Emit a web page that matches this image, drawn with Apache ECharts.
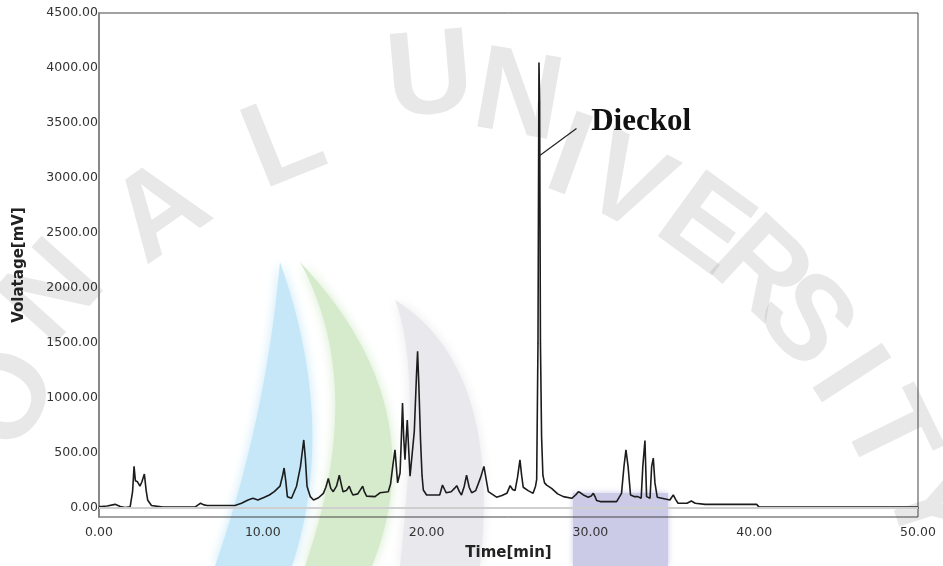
<!DOCTYPE html>
<html>
<head>
<meta charset="utf-8">
<title>Chromatogram</title>
<script src="https://cdn.jsdelivr.net/npm/echarts@6/dist/echarts.min.js"></script>
<style>
  html, body { margin: 0; padding: 0; background: #fff; }
  #chart { width: 943px; height: 566px; }
</style>
</head>
<body>
<div id="chart"></div>
<script>
// Retention time (min) and detector response (mV) of the chromatogram trace
const retentionTime = [
  0.00, 0.15, 0.50, 0.98, 1.30, 1.60, 1.90, 2.05, 2.14, 2.22, 2.35, 2.50, 2.62, 2.77, 2.88, 2.97,
  3.20, 3.90, 5.86, 6.05, 6.20, 6.40, 6.60, 8.30, 8.70, 9.10, 9.40, 9.70, 10.10, 10.40, 10.70,
  11.05, 11.20, 11.30, 11.40, 11.50, 11.75, 12.06, 12.30, 12.50, 12.60, 12.70, 12.90, 13.10,
  13.40, 13.70, 13.85, 14.00, 14.15, 14.30, 14.50, 14.67, 14.80, 14.90, 15.10, 15.28, 15.40,
  15.50, 15.80, 16.10, 16.20, 16.34, 16.85, 17.15, 17.66, 17.80, 17.95, 18.07, 18.15, 18.23,
  18.38, 18.45, 18.53, 18.60, 18.68, 18.76, 18.82, 18.90, 18.99, 19.10, 19.25, 19.38, 19.45,
  19.53, 19.63, 19.72, 19.80, 20.00, 20.80, 20.97, 21.10, 21.20, 21.50, 21.70, 21.84, 22.00,
  22.13, 22.30, 22.44, 22.60, 22.75, 23.00, 23.30, 23.50, 23.65, 23.77, 24.27, 24.60, 24.90,
  25.10, 25.25, 25.40, 25.55, 25.70, 25.80, 25.90, 26.20, 26.50, 26.65, 26.72, 26.80, 26.86,
  26.90, 26.95, 27.02, 27.10, 27.20, 27.33, 27.63, 28.00, 28.35, 28.86, 29.10, 29.26, 29.40,
  29.57, 29.87, 30.05, 30.18, 30.30, 30.38, 30.60, 31.60, 31.90, 32.05, 32.17, 32.30, 32.45,
  32.70, 32.90, 33.10, 33.20, 33.33, 33.43, 33.64, 33.74, 33.84, 33.94, 34.08, 34.85, 35.06,
  35.20, 35.35, 35.90, 36.16, 36.40, 37.00, 40.15, 40.30, 50.00
];
const signal = [
  15, 15, 20, 35, 15, 5, 12, 150, 380, 250, 240, 200, 240, 310, 160, 75,
  25, 10, 10, 30, 45, 30, 25, 25, 45, 75, 90, 75, 100, 120, 150,
  200, 290, 365, 250, 105, 90, 200, 380, 620, 450, 200, 105, 75,
  95, 135, 190, 270, 180, 150, 200, 300, 210, 150, 160, 200, 150,
  120, 130, 200, 150, 110, 105, 140, 150, 220, 400, 530, 380, 230,
  320, 600, 955, 650, 440, 650, 800, 550, 290, 300, 700, 1200, 1425,
  1100, 620, 300, 165, 120, 120, 210, 170, 140, 150, 180, 205, 150,
  120, 200, 300, 190, 140, 160, 280, 380, 250, 150, 100, 115, 135,
  205, 170, 160, 280, 440, 300, 190, 160, 135, 200, 260, 1500, 4050,
  3690, 1500, 650, 300, 230, 210, 180, 130, 105, 90, 120, 150, 140,
  120, 100, 110, 135, 100, 70, 60, 60, 135, 380, 530, 380, 120,
  105, 105, 90, 380, 615, 105, 90, 380, 455, 230, 100, 75, 120,
  80, 45, 45, 65, 45, 35, 35, 10, 10
];

// Axis ticks
const timeTicks = [0, 10, 20, 30, 40, 50];
const voltageTicks = [0, 500, 1000, 1500, 2000, 2500, 3000, 3500, 4000, 4500];

// Annotated compound: peak point the leader starts from, leader end, label anchor
const peakName = 'Dieckol';
const leaderStart = [26.87, 3200];
const leaderEnd = [29.15, 3450];
const labelAnchor = [30.05, 3510];

const trace = retentionTime.map((t, i) => [t, signal[i]]);

// Faded seal in the background: arced lettering and coloured crescents
const sealLetters = [
  { ch: 'O', x: 10,  y: 400, r: 62 },
  { ch: 'N', x: 55,  y: 295, r: 48 },
  { ch: 'A', x: 162, y: 214, r: 35 },
  { ch: 'L', x: 285, y: 145, r: 22 },
  { ch: 'U', x: 430, y: 80,  r: 5 },
  { ch: 'N', x: 518, y: 100, r: -10 },
  { ch: 'I', x: 568, y: 160, r: -20 },
  { ch: 'V', x: 625, y: 188, r: -28 },
  { ch: 'E', x: 703, y: 228, r: -36 },
  { ch: 'R', x: 758, y: 272, r: -43 },
  { ch: 'S', x: 803, y: 322, r: -50 },
  { ch: 'I', x: 845, y: 377, r: -57 },
  { ch: 'T', x: 885, y: 435, r: -64 },
  { ch: 'Y', x: 928, y: 508, r: -72 }
];

// Crescent outlines: tip, outer control/end, inner control/end (quadratic curves)
const crescents = [
  { tip: [280, 262], outerCtrl: [338, 426], outerEnd: [292, 566], innerCtrl: [266, 420], innerEnd: [215, 566], color: '#c6e7f7' },
  { tip: [300, 262], outerCtrl: [436, 406], outerEnd: [372, 566], innerCtrl: [368, 386], innerEnd: [305, 566], color: '#d5ebcc' },
  { tip: [395, 300], outerCtrl: [502, 367], outerEnd: [480, 566], innerCtrl: [422, 367], innerEnd: [400, 566], color: '#e9e9ed' }
];

function quadPoints(p0, c, p1, n) {
  const pts = [];
  for (let i = 0; i <= n; i++) {
    const s = i / n, a = (1 - s) * (1 - s), b = 2 * (1 - s) * s, d = s * s;
    pts.push([a * p0[0] + b * c[0] + d * p1[0], a * p0[1] + b * c[1] + d * p1[1]]);
  }
  return pts;
}

const crescentGraphics = crescents.map(c => {
  const outer = quadPoints(c.tip, c.outerCtrl, c.outerEnd, 30);
  const inner = quadPoints(c.tip, c.innerCtrl, c.innerEnd, 30).reverse();
  return {
    type: 'polygon', z: -10, silent: true,
    shape: { points: outer.concat(inner) },
    style: { fill: c.color, shadowBlur: 12, shadowColor: c.color }
  };
});

const sealGraphics = crescentGraphics.concat([
  {
    type: 'rect', z: -10, silent: true,
    shape: { x: 573, y: 493, width: 95, height: 73 },
    style: { fill: '#cbcbe8', shadowBlur: 6, shadowColor: '#cbcbe8' }
  }
]).concat(sealLetters.map(l => ({
  type: 'text', z: -9, silent: true,
  x: l.x, y: l.y, rotation: l.r * Math.PI / 180,
  style: {
    text: l.ch,
    font: 'bold 120px "Liberation Sans", Arial, sans-serif',
    fill: 'rgba(160,160,160,0.24)',
    align: 'center',
    verticalAlign: 'middle',
    shadowBlur: 8,
    shadowColor: 'rgba(160,160,160,0.5)'
  }
})));

const chart = echarts.init(document.getElementById('chart'), null, { renderer: 'canvas' });

chart.setOption({
  backgroundColor: '#ffffff',
  animation: false,
  graphic: sealGraphics,
  grid: {
    left: 99, right: 25, top: 13, bottom: 49,
    outerBoundsMode: 'none',
    containLabel: false,
    show: true, borderColor: '#444', borderWidth: 1,
    backgroundColor: 'transparent'
  },
  xAxis: {
    type: 'value',
    min: timeTicks[0],
    max: timeTicks[timeTicks.length - 1],
    interval: 10,
    name: 'Time[min]',
    nameLocation: 'middle',
    nameGap: 29,
    nameTextStyle: { fontFamily: '"DejaVu Sans", sans-serif', fontWeight: 'bold', fontSize: 15, color: '#222' },
    axisLine: { show: true, lineStyle: { color: '#333', width: 1.5 } },
    axisTick: { show: false },
    splitLine: { show: false },
    axisLabel: {
      margin: 9,
      fontFamily: '"DejaVu Sans", sans-serif',
      fontSize: 12.5,
      color: '#333',
      formatter: v => v.toFixed(2)
    }
  },
  yAxis: {
    type: 'value',
    min: -80,
    max: voltageTicks[voltageTicks.length - 1],
    name: 'Volatage[mV]',
    nameLocation: 'middle',
    nameGap: 72,
    nameRotate: 90,
    nameTextStyle: { fontFamily: '"DejaVu Sans", sans-serif', fontWeight: 'bold', fontSize: 15, color: '#222' },
    axisLine: { show: true, lineStyle: { color: '#888', width: 2 } },
    axisTick: { show: false },
    splitLine: { show: false },
    axisLabel: {
      margin: 1,
      customValues: voltageTicks,
      fontFamily: '"DejaVu Sans", sans-serif',
      fontSize: 12.5,
      color: '#333',
      formatter: v => v.toFixed(2)
    }
  },
  series: [
    {
      // zero-signal reference line
      type: 'line',
      data: [],
      z: 1,
      silent: true,
      markLine: {
        silent: true,
        symbol: ['none', 'none'],
        label: { show: false },
        lineStyle: { color: '#cfcfcf', width: 2, type: 'solid' },
        data: [{ yAxis: 0 }]
      }
    },
    {
      name: 'Signal',
      type: 'line',
      data: trace,
      z: 3,
      showSymbol: false,
      smooth: false,
      lineStyle: { color: '#1c1c1c', width: 1.6 },
      markLine: {
        silent: true,
        symbol: ['none', 'none'],
        label: { show: false },
        lineStyle: { color: '#222', width: 1.2, type: 'solid' },
        data: [[{ coord: leaderStart }, { coord: leaderEnd }]]
      },
      markPoint: {
        silent: true,
        symbol: 'circle',
        symbolSize: 0,
        data: [{
          coord: labelAnchor,
          label: {
            show: true,
            position: 'right',
            distance: 0,
            formatter: peakName,
            fontFamily: '"Liberation Serif", "Times New Roman", serif',
            fontWeight: 'bold',
            fontSize: 31,
            color: '#111'
          }
        }]
      }
    }
  ]
});
</script>
</body>
</html>
